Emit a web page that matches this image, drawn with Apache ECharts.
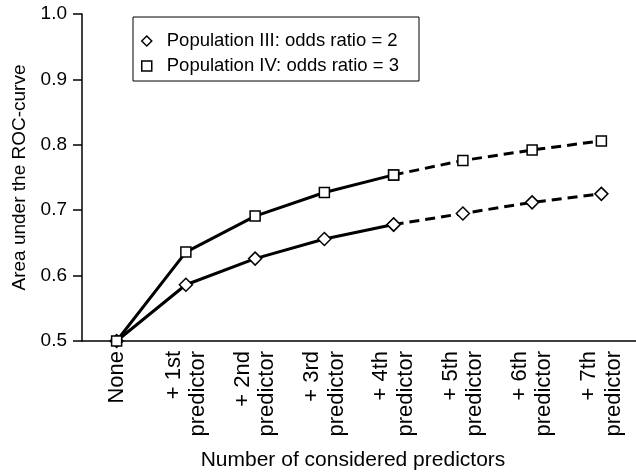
<!DOCTYPE html>
<html>
<head>
<meta charset="utf-8">
<script src="https://cdn.jsdelivr.net/npm/echarts@6/dist/echarts.min.js"></script>
<style>
	html, body { margin: 0; padding: 0; background: #fff; }
	#chart { width: 636px; height: 476px; }
</style>
</head>
<body>
<div id="chart"></div>
<script>
	'use strict'
	/*-----data-----*/
	var categories = ['None', '+ 1st\npredictor', '+ 2nd\npredictor', '+ 3rd\npredictor',
		'+ 4th\npredictor', '+ 5th\npredictor', '+ 6th\npredictor', '+ 7th\npredictor'];
	var popIII = [0.5, 0.586, 0.626, 0.656, 0.678, 0.695, 0.712, 0.725];
	var popIV = [0.5, 0.636, 0.691, 0.727, 0.754, 0.776, 0.792, 0.806];
	var solidUntil = 4; // last index drawn with a solid line
	var nameIII = 'Population III: odds ratio = 2';
	var nameIV = 'Population IV: odds ratio = 3';

	function part(values, solid) {
		return values.map(function(v, i) {
			if (solid) return i <= solidUntil ? v : '-';
			return i >= solidUntil ? v : '-';
		});
	}
	var font = '"Liberation Sans", Arial, Helvetica, sans-serif';
	var mark = {
		color: '#fff',
		borderColor: '#000',
		borderWidth: 1.5
	};
	function makeSeries(name, values, symbol, size, solid) {
		return {
			name: name,
			type: 'line',
			data: part(values, solid),
			symbol: symbol,
			symbolSize: size,
			showAllSymbol: true,
			z: solid ? 3 : 2,
			itemStyle: mark,
			lineStyle: {
				color: '#000',
				width: 3,
				type: solid ? 'solid' : [10, 6]
			},
			emphasis: { disabled: true },
			animation: false
		};
	}
	var chart = echarts.init(document.getElementById('chart'));
	var option = {
		backgroundColor: '#fff',
		grid: {
			top: 14,
			left: 82,
			right: -3,
			bottom: 134
		},
		legend: {
			orient: 'vertical',
			left: 133,
			top: 17,
			borderColor: '#000',
			borderWidth: 1,
			padding: [13, 20, 4, 8],
			itemGap: 3,
			itemWidth: 10,
			itemHeight: 10,
			itemStyle: mark,
			selectedMode: false,
			textStyle: {
				fontFamily: font,
				fontSize: 18.5,
				color: '#000',
				lineHeight: 22,
				padding: [0, 0, 0, 10]
			},
			data: [{ name: nameIII, icon: 'diamond' }, { name: nameIV, icon: 'rect' }]
		},
		xAxis: {
			type: 'category',
			data: categories,
			name: 'Number of considered predictors',
			nameLocation: 'middle',
			nameGap: 109,
			nameTextStyle: {
				fontFamily: font,
				fontSize: 21,
				color: '#000',
				padding: [0, 12, 0, 0]
			},
			axisLine: { lineStyle: { color: '#000', width: 1.5 } },
			axisTick: { length: 10, lineStyle: { color: '#000', width: 1.5 } },
			axisLabel: {
				rotate: 90,
				margin: 10,
				fontFamily: font,
				fontSize: 22,
				lineHeight: 24.5,
				color: '#000'
			}
		},
		yAxis: {
			type: 'value',
			min: 0.5,
			max: 1.0,
			interval: 0.1,
			name: 'Area under the ROC-curve',
			nameLocation: 'middle',
			nameGap: 52,
			nameTextStyle: {
				fontFamily: font,
				fontSize: 19,
				color: '#000'
			},
			splitLine: { show: false },
			axisLine: { show: true, lineStyle: { color: '#000', width: 1.5 } },
			axisTick: { show: true, length: 9, lineStyle: { color: '#000', width: 1.5 } },
			axisLabel: {
				margin: 15,
				fontFamily: font,
				fontSize: 19,
				color: '#000',
				formatter: function(v) { return v.toFixed(1); }
			}
		},
		series: [
			makeSeries(nameIII, popIII, 'diamond', 13, true),
			makeSeries(nameIII, popIII, 'diamond', 13, false),
			makeSeries(nameIV, popIV, 'rect', 10, true),
			makeSeries(nameIV, popIV, 'rect', 10, false)
		]
	};
	chart.setOption(option);
</script>
</body>
</html>
